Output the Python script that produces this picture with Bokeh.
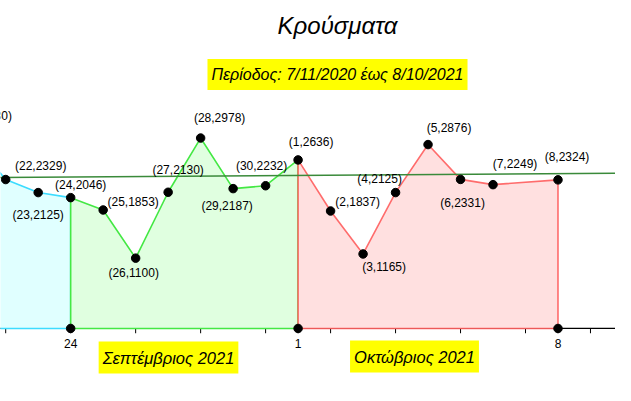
from bokeh.plotting import figure
from bokeh.models import Range1d, Label
from bokeh.core.properties import value
from bokeh.embed import file_html
from bokeh.resources import INLINE

# ---- data ----
aug_pos = [21, 22, 23, 24]
aug_cases = [2930, 2329, 2125, 2046]
aug_days = ["21", "22", "23", "24"]

sep_pos = [24, 25, 26, 27, 28, 29, 30, 31]
sep_cases = [2046, 1853, 1100, 2130, 2978, 2187, 2232, 2636]

oct_pos = [31, 32, 33, 34, 35, 36, 37, 39]
oct_cases = [2636, 1837, 1165, 2125, 2876, 2331, 2249, 2324]

point_pos = [21, 22, 23, 24, 25, 26, 27, 28, 29, 30, 31, 32, 33, 34, 35, 36, 37, 39]
point_days = ["21", "22", "23", "24", "25", "26", "27", "28", "29", "30",
              "1", "2", "3", "4", "5", "6", "7", "8"]
point_cases = [2930, 2329, 2125, 2046, 1853, 1100, 2130, 2978, 2187, 2232,
               2636, 1837, 1165, 2125, 2876, 2331, 2249, 2324]
# label offsets (screen px) relative to each point
label_dx = [13, 35, 0, 10, 30, -2, 10, 19, -6, -4, 13, 27, 21, -16, 21, 2, 22, 9]
label_dy = [-25, -14, 22, -13, -8, 15, -22, -20, 17, -20, -18, -9, 13, -14, -17, 24, -21, -23]

base_pos = [21, 24, 31, 39]
base_vals = [0, 0, 0, 0]

tick_pos = [20, 22, 24, 26, 28, 30, 31, 32, 34, 36, 38, 39, 40]
tick_label_pos = [24, 31, 39]
tick_labels = ["24", "1", "8"]

trend_pos = [21, 41]
trend_vals = [2359, 2427]

FONT = "Liberation Sans"

p = figure(width=615, height=385, x_range=Range1d(21.84, 40.77),
           y_range=Range1d(-892, 5129), output_backend="svg",
           toolbar_location=None, min_border=0,
           x_axis_type=None, y_axis_type=None)
p.outline_line_color = None
p.background_fill_color = "white"

# axis line
p.line(x=[20, 42], y=[0, 0], line_color="black", line_width=1.3)
p.segment(x0=tick_pos, y0=[0] * len(tick_pos), x1=tick_pos, y1=[-75] * len(tick_pos),
          line_color="black", line_width=1)
p.text(x=tick_label_pos, y=[0] * 3, text=tick_labels, y_offset=15,
       text_font=value(FONT), text_font_size="12px", text_align="center",
       text_baseline="middle", text_color="black")

# regions
p.patch(x=[aug_pos[0]] + aug_pos + [aug_pos[-1]], y=[0] + aug_cases + [0],
        fill_color="#e0ffff", line_color="#3ddcff", line_width=1.6)
p.patch(x=[sep_pos[0]] + sep_pos + [sep_pos[-1]], y=[0] + sep_cases + [0],
        fill_color="#e0ffe0", line_color="#44e844", line_width=1.6)
p.patch(x=[oct_pos[0]] + oct_pos + [oct_pos[-1]], y=[0] + oct_cases + [0],
        fill_color="#ffe0e0", line_color="#ff5555", line_width=1.6, line_alpha=0.85)

# trend line
p.line(x=trend_pos, y=trend_vals, line_color="#3a8a3a", line_width=1.5)

# points
p.scatter(x=point_pos, y=point_cases, size=8.5, color="black")
p.scatter(x=base_pos, y=base_vals, size=8.5, color="black")

labels = ["(%s,%d)" % (d, c) for d, c in zip(point_days, point_cases)]
p.text(x=point_pos, y=point_cases, text=labels, x_offset=label_dx, y_offset=label_dy,
       text_font=value(FONT), text_font_size="12px", text_align="center",
       text_baseline="middle", text_color="black")

# titles
p.add_layout(Label(x=337, y=360, x_units="screen", y_units="screen", text="Κρούσματα",
                   text_font=FONT, text_font_size="24px", text_font_style="italic",
                   text_align="center", text_baseline="middle", text_color="black"))
p.add_layout(Label(x=337, y=311, x_units="screen", y_units="screen",
                   text="Περίοδος: 7/11/2020 έως 8/10/2021",
                   text_font=FONT, text_font_size="16px", text_font_style="italic",
                   text_align="center", text_baseline="middle", text_color="black",
                   background_fill_color="yellow", padding=(4, 7)))
p.add_layout(Label(x=168, y=28, x_units="screen", y_units="screen",
                   text="Σεπτέμβριος 2021",
                   text_font=FONT, text_font_size="16.5px", text_font_style="italic",
                   text_align="center", text_baseline="middle", text_color="black",
                   background_fill_color="yellow", padding=(4, 7)))
p.add_layout(Label(x=414, y=29, x_units="screen", y_units="screen",
                   text="Οκτώβριος 2021",
                   text_font=FONT, text_font_size="16.5px", text_font_style="italic",
                   text_align="center", text_baseline="middle", text_color="black",
                   background_fill_color="yellow", padding=(4, 7)))

open("out.html", "w").write(file_html(p, INLINE))
